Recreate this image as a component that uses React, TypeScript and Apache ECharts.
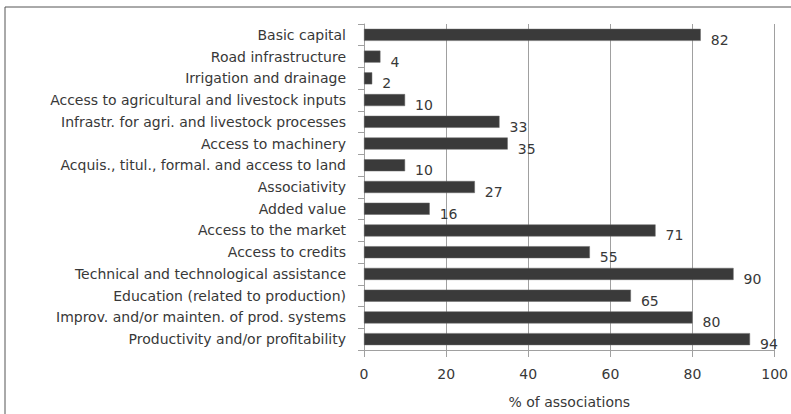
import React, { useEffect, useRef } from "react";
import * as echarts from "echarts";

const categories = [
  "Basic capital",
  "Road infrastructure",
  "Irrigation and drainage",
  "Access to agricultural and livestock inputs",
  "Infrastr. for agri. and livestock processes",
  "Access to machinery",
  "Acquis., titul., formal. and access to land",
  "Associativity",
  "Added value",
  "Access to the market",
  "Access to credits",
  "Technical and technological assistance",
  "Education (related to production)",
  "Improv. and/or mainten. of prod. systems",
  "Productivity and/or profitability",
];
const values = [82, 4, 2, 10, 33, 35, 10, 27, 16, 71, 55, 90, 65, 80, 94];
const xTicks = [0, 20, 40, 60, 80, 100];
const xTitle = "% of associations";

export default function App() {
  const ref = useRef<HTMLDivElement>(null);
  useEffect(() => {
    if (!ref.current) return;
    const chart = echarts.init(ref.current, undefined, { renderer: "svg" });
    const font = "DejaVu Sans";
    chart.setOption({
      animation: false,
      backgroundColor: "#ffffff",
      textStyle: { fontFamily: font },
      graphic: [
        {
          type: "rect",
          shape: { x: 5, y: 7, width: 800, height: 420 },
          style: { fill: "none", stroke: "#555555", lineWidth: 1 },
          silent: true,
        },
      ],
      grid: { left: 364, right: 16, top: 24, bottom: 63, containLabel: false },
      xAxis: {
        type: "value",
        min: xTicks[0],
        max: xTicks[xTicks.length - 1],
        interval: 20,
        name: xTitle,
        nameLocation: "middle",
        nameGap: 45,
        nameTextStyle: { color: "#383838", fontSize: 14, fontFamily: font },
        axisLine: { show: true, lineStyle: { color: "#a0a0a0" } },
        axisTick: { show: true, length: 7, lineStyle: { color: "#a0a0a0" } },
        axisLabel: { color: "#383838", fontSize: 14, margin: 17, fontFamily: font },
        splitLine: { show: true, lineStyle: { color: "#a0a0a0", width: 1 } },
      },
      yAxis: {
        type: "category",
        data: categories,
        inverse: true,
        axisLine: { show: true, lineStyle: { color: "#a0a0a0" } },
        axisTick: { show: true, length: 6, lineStyle: { color: "#a0a0a0" } },
        axisLabel: { color: "#383838", fontSize: 14, margin: 18, fontFamily: font },
      },
      series: [
        {
          type: "bar",
          data: values,
          barWidth: 12,
          itemStyle: { color: "#3a3a3a", borderColor: "#666666", borderWidth: 0.5 },
          label: {
            show: true,
            position: "right",
            distance: 10,
            offset: [0, 5],
            color: "#383838",
            fontSize: 14,
            fontFamily: font,
          },
        },
      ],
    });
    return () => chart.dispose();
  }, []);
  return (
    <div
      ref={ref}
      style={{ position: "fixed", left: 0, top: 0, width: 791, height: 414 }}
    />
  );
}
